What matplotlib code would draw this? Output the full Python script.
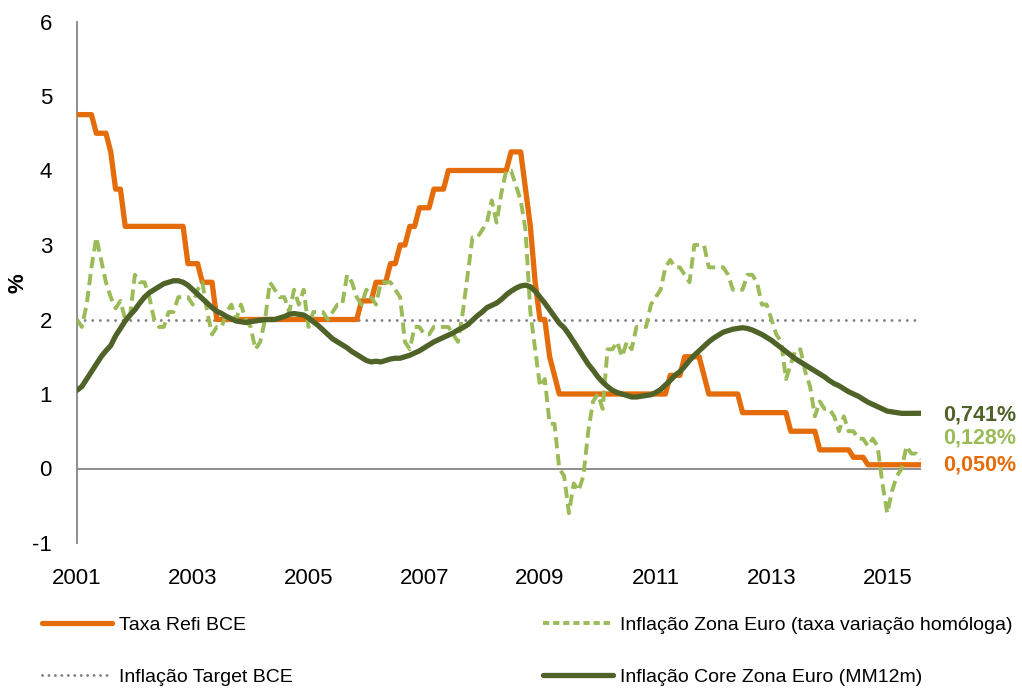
import numpy as np
import matplotlib
matplotlib.use("Agg")
import matplotlib.pyplot as plt
from matplotlib.lines import Line2D

# ---------------- data (monthly, Jan 2001 - Aug 2015) ----------------
year_labels = ["2001", "2003", "2005", "2007", "2009", "2011", "2013", "2015"]

refi = ([4.75] * 4 + [4.50] * 3 + [4.25] + [3.75] * 2 + [3.25] * 13 + [2.75] * 3 +
        [2.50] * 3 + [2.00] * 30 + [2.25] * 3 + [2.50] * 3 + [2.75] * 2 + [3.00] * 2 +
        [3.25] * 2 + [3.50] * 3 + [3.75] * 3 + [4.00] * 13 + [4.25] * 3 + [3.75] +
        [3.25] + [2.50] + [2.00] * 2 + [1.50] + [1.25] + [1.00] * 23 + [1.25] * 3 +
        [1.50] * 4 + [1.25] + [1.00] * 7 + [0.75] * 10 + [0.50] * 6 + [0.25] * 7 +
        [0.15] * 3 + [0.05] * 12)

hicp = [
    2.0, 1.9, 2.2, 2.7, 3.1, 2.8, 2.5, 2.3, 2.15, 2.25, 2.0, 2.05,   # 2001
    2.6, 2.5, 2.5, 2.3, 2.0, 1.9, 1.9, 2.1, 2.1, 2.3, 2.3, 2.3,      # 2002
    2.2, 2.4, 2.5, 2.1, 1.8, 1.9, 1.9, 2.1, 2.2, 2.0, 2.2, 2.0,      # 2003
    1.9, 1.6, 1.7, 2.0, 2.5, 2.4, 2.3, 2.3, 2.1, 2.4, 2.2, 2.4,      # 2004
    1.9, 2.1, 2.1, 2.1, 2.0, 2.1, 2.2, 2.2, 2.6, 2.5, 2.3, 2.2,      # 2005
    2.4, 2.3, 2.2, 2.5, 2.5, 2.5, 2.4, 2.3, 1.7, 1.6, 1.9, 1.9,      # 2006
    1.8, 1.8, 1.9, 1.9, 1.9, 1.9, 1.8, 1.7, 2.1, 2.6, 3.1, 3.1,      # 2007
    3.2, 3.3, 3.6, 3.3, 3.7, 4.0, 4.0, 3.8, 3.6, 3.2, 2.1, 1.6,      # 2008
    1.1, 1.2, 0.6, 0.6, 0.0, -0.1, -0.6, -0.2, -0.3, -0.1, 0.5, 0.9,  # 2009
    1.0, 0.8, 1.6, 1.6, 1.7, 1.5, 1.7, 1.6, 1.9, 1.9, 1.9, 2.2,      # 2010
    2.3, 2.4, 2.7, 2.8, 2.7, 2.7, 2.6, 2.5, 3.0, 3.0, 3.0, 2.7,      # 2011
    2.7, 2.7, 2.7, 2.6, 2.4, 2.4, 2.4, 2.6, 2.6, 2.5, 2.2, 2.2,      # 2012
    2.0, 1.8, 1.7, 1.2, 1.4, 1.6, 1.6, 1.3, 1.1, 0.7, 0.9, 0.8,      # 2013
    0.8, 0.7, 0.5, 0.7, 0.5, 0.5, 0.4, 0.4, 0.3, 0.4, 0.3, -0.2,     # 2014
    -0.6, -0.3, -0.1, 0.0, 0.3, 0.2, 0.2, 0.128,                     # 2015
]

core = [
    1.05, 1.10, 1.20, 1.30, 1.40, 1.50, 1.58, 1.65, 1.78, 1.88, 1.98, 2.06,  # 2001
    2.13, 2.22, 2.30, 2.36, 2.40, 2.44, 2.48, 2.50, 2.52, 2.52, 2.50, 2.46,  # 2002
    2.40, 2.34, 2.28, 2.22, 2.16, 2.11, 2.08, 2.04, 2.01, 1.98, 1.97, 1.96,  # 2003
    1.97, 1.98, 1.99, 2.00, 2.00, 2.00, 2.02, 2.04, 2.07, 2.08, 2.07, 2.06,  # 2004
    2.02, 1.97, 1.92, 1.86, 1.80, 1.74, 1.70, 1.66, 1.62, 1.57, 1.53, 1.49,  # 2005
    1.45, 1.43, 1.44, 1.43, 1.45, 1.47, 1.48, 1.48, 1.50, 1.52, 1.55, 1.58,  # 2006
    1.62, 1.66, 1.70, 1.73, 1.76, 1.79, 1.82, 1.86, 1.89, 1.93, 1.99, 2.05,  # 2007
    2.10, 2.16, 2.19, 2.22, 2.27, 2.33, 2.38, 2.42, 2.45, 2.46, 2.44, 2.38,  # 2008
    2.30, 2.22, 2.13, 2.04, 1.95, 1.89, 1.80, 1.70, 1.60, 1.50, 1.40, 1.32,  # 2009
    1.23, 1.16, 1.10, 1.05, 1.02, 1.00, 0.98, 0.96, 0.96, 0.97, 0.98, 0.99,  # 2010
    1.02, 1.06, 1.12, 1.18, 1.25, 1.30, 1.37, 1.45, 1.52, 1.58, 1.64, 1.70,  # 2011
    1.75, 1.79, 1.83, 1.85, 1.87, 1.88, 1.89, 1.88, 1.86, 1.83, 1.80, 1.76,  # 2012
    1.72, 1.67, 1.62, 1.57, 1.52, 1.47, 1.43, 1.39, 1.35, 1.31, 1.27, 1.23,  # 2013
    1.18, 1.14, 1.11, 1.07, 1.03, 1.00, 0.97, 0.93, 0.89, 0.86, 0.83, 0.80,  # 2014
    0.77, 0.76, 0.75, 0.74, 0.74, 0.74, 0.741, 0.741,                        # 2015
]

target = [2.0] * len(core)

series_names = ["Taxa Refi BCE", "Inflação Target BCE",
                "Inflação Zona Euro (taxa variação homóloga)",
                "Inflação Core Zona Euro (MM12m)"]

# ---------------- styling ----------------
C_ORANGE = "#E46C0A"
C_LGREEN = "#9BBB59"
C_DGREEN = "#4F6228"
C_DOT = "#808080"
C_AXIS = "#868686"
TICK_FONT = ["Liberation Sans", "DejaVu Sans"]
LEG_FONT = ["Liberation Sans", "DejaVu Sans"]

W, H = 1022, 688
fig = plt.figure(figsize=(W / 100, H / 100), dpi=100)
ax = fig.add_axes([77 / W, 1 - 543 / H, (921 - 77) / W, (543 - 21.5) / H])

x = np.arange(len(core))

DOT_STYLE = (0, (0.01, 2.6))
DASH_STYLE = (0, (2.9, 1.5))

ax.plot(x, target, color=C_DOT, lw=2.1, linestyle=DOT_STYLE,
        dash_capstyle="round", zorder=2)
ax.plot(x, refi, color=C_ORANGE, lw=3.8, solid_joinstyle="round",
        solid_capstyle="round", zorder=3)
ax.plot(x, hicp, color=C_LGREEN, lw=2.8, linestyle=DASH_STYLE,
        zorder=4)
ax.plot(x, core, color=C_DGREEN, lw=3.8, solid_joinstyle="round",
        solid_capstyle="round", zorder=5)

ax.axhline(0, color=C_AXIS, lw=1.3, zorder=1)

ax.set_xlim(0, len(core) - 1)
ax.set_ylim(-1, 6)
ax.set_yticks(range(-1, 7))
ax.set_yticklabels([str(v) for v in range(-1, 7)], fontfamily=TICK_FONT,
                   fontsize=16, color="#000000")
ax.set_xticks(np.arange(len(year_labels)) * 24)
ax.set_xticklabels(year_labels, fontfamily=TICK_FONT, fontsize=16,
                   color="#000000")
ax.tick_params(axis="both", length=0)
ax.tick_params(axis="y", pad=18)
ax.tick_params(axis="x", pad=18)

for s in ["top", "right", "bottom"]:
    ax.spines[s].set_visible(False)
ax.spines["left"].set_color(C_AXIS)
ax.spines["left"].set_linewidth(1.3)

fig.text(18 / W, 1 - 283 / H, "%", rotation=90, ha="center", va="center",
         fontsize=16, fontweight="bold", fontfamily=TICK_FONT)

# end-of-line value labels
def fmt(v):
    return f"{v:.3f}%".replace(".", ",")

end = len(core) - 1
for vals, col, dy in [(core, C_DGREEN, -1), (hicp, C_LGREEN, 15), (refi, C_ORANGE, 0)]:
    ax.annotate(fmt(vals[-1]), xy=(end, vals[-1]), xytext=(16, dy),
                textcoords="offset points", ha="left", va="center",
                color=col, fontsize=15.5, fontweight="bold",
                fontfamily=TICK_FONT, annotation_clip=False)

# legends (two columns placed separately)
h_refi = Line2D([], [], color=C_ORANGE, lw=3.8, solid_capstyle="round")
h_tgt = Line2D([], [], color=C_DOT, lw=2.1, linestyle=(0, (0.01, 2.2)),
               dash_capstyle="round")
h_hicp = Line2D([], [], color=C_LGREEN, lw=2.8, linestyle=(0, (1.6, 1.0)))
h_core = Line2D([], [], color=C_DGREEN, lw=3.8, solid_capstyle="round")

leg_kw = dict(frameon=False, loc="center left", borderpad=0, borderaxespad=0,
              handlelength=3.6, handletextpad=0.35, labelspacing=1.78,
              prop={"family": LEG_FONT, "size": 14})
leg1 = fig.legend([h_refi, h_tgt], series_names[:2],
                  bbox_to_anchor=(42 / W, 1 - 651 / H), **leg_kw)
leg2 = fig.legend([h_hicp, h_core], series_names[2:],
                  bbox_to_anchor=(543 / W, 1 - 651 / H), **leg_kw)

fig.savefig("out.png", dpi=100)
